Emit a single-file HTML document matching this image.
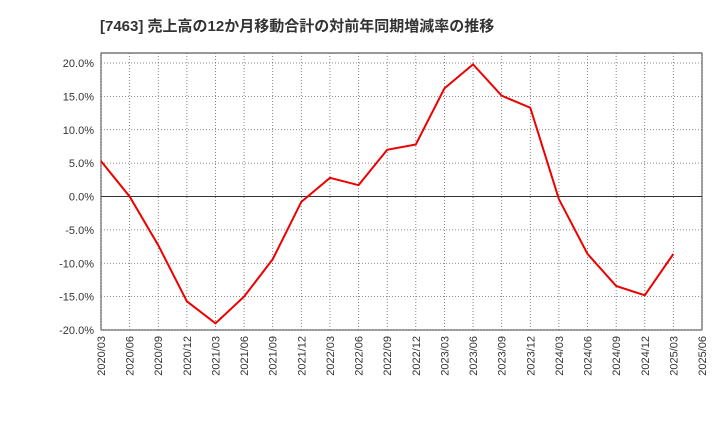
<!DOCTYPE html>
<html><head><meta charset="utf-8"><style>
body{margin:0;background:#fff;font-family:"Liberation Sans","Noto Sans CJK JP",sans-serif;}
</style></head><body>
<svg id="c" width="720" height="440" xmlns="http://www.w3.org/2000/svg">
<text x="100" y="31" font-size="15" font-weight="bold" fill="#333" font-family="Liberation Sans, Noto Sans CJK JP, sans-serif">[7463]  売上高の12か月移動合計の対前年同期増減率の推移</text>
<g id="g"></g>
</svg>
<script>
const categories=["2020/03","2020/06","2020/09","2020/12","2021/03","2021/06","2021/09","2021/12","2022/03","2022/06","2022/09","2022/12","2023/03","2023/06","2023/09","2023/12","2024/03","2024/06","2024/09","2024/12","2025/03","2025/06"];
const values=[5.3,0.0,-7.3,-15.7,-19.0,-15.0,-9.4,-0.8,2.8,1.7,7.0,7.8,16.2,19.8,15.1,13.3,-0.4,-8.6,-13.4,-14.8,-8.6];
const yTicks=[-20,-15,-10,-5,0,5,10,15,20];
const L=101,R=702,T=53,B=330,yMin=-20,yMax=21.5;
const x=i=>L+(R-L)*i/(categories.length-1);
const y=v=>B-(v-yMin)/(yMax-yMin)*(B-T);
const g=document.getElementById('g');
const NS="http://www.w3.org/2000/svg";
function mk(t,a){const e=document.createElementNS(NS,t);for(const k in a)e.setAttribute(k,a[k]);g.appendChild(e);return e;}
let bg=mk('rect',{x:L,y:T,width:R-L,height:B-T,fill:'#fff',stroke:'#333','stroke-width':1});


categories.forEach((c,i)=>{
 const l=mk('line',{x1:x(i),x2:x(i),y1:T,y2:B,stroke:'#666','stroke-dasharray':'1,2','stroke-width':0.8});
 
 
 const t=mk('text',{x:0,y:0,'font-size':11,fill:'#333','text-anchor':'end',transform:`translate(${x(i)+4},${B+6}) rotate(-90)`});
 
 
 t.textContent=c;
});
yTicks.forEach(v=>{
 const l=mk('line',{x1:L,x2:R,y1:y(v),y2:y(v),stroke:v===0?'#333':'#666','stroke-dasharray':v===0?'none':'1,2','stroke-width':v===0?1:0.8});
 
 
 const t=mk('text',{x:L-7,y:y(v)+4,'font-size':11,fill:'#333','text-anchor':'end'});
 
 
 t.textContent=v.toFixed(1)+'%';
});
const p=mk('polyline',{points:values.map((v,i)=>x(i)+','+y(v)).join(' '),fill:'none',stroke:'#ee0000','stroke-width':2});


</script>
</body></html>
